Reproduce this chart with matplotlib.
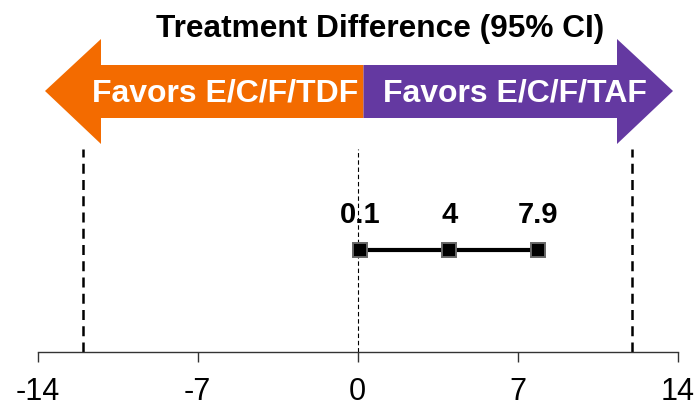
import matplotlib
matplotlib.use("Agg")
import matplotlib.pyplot as plt
from matplotlib.patches import Polygon

plt.rcParams['font.family'] = ['Liberation Sans', 'DejaVu Sans']

# Treatment difference estimate with 95% CI
ci_values = [0.1, 4, 7.9]
ci_labels = ["0.1", "4", "7.9"]
margin_lines = [-12, 12]
xticks = [-14, -7, 0, 7, 14]
xticklabels = ["-14", "-7", "0", "7", "14"]
title = "Treatment Difference (95% CI)"
left_label = "Favors E/C/F/TDF"
right_label = "Favors E/C/F/TAF"
orange = "#F36B00"
purple = "#6439A1"

W, H = 697, 406
fig = plt.figure(figsize=(W / 100, H / 100), dpi=100)

ax_left, ax_right, ax_axis_y = 37.7, 677.7, 353
ax = fig.add_axes([ax_left / W, (H - ax_axis_y) / H, (ax_right - ax_left) / W, ax_axis_y / H])
ax.set_xlim(-14, 14)
ax.set_ylim(0, 1)

for s in ["top", "left", "right"]:
    ax.spines[s].set_visible(False)
ax.spines["bottom"].set_linewidth(1.0)
ax.spines["bottom"].set_color("#333333")
ax.set_yticks([])
ax.set_xticks(xticks)
ax.set_xticklabels(xticklabels, fontsize=22)
ax.tick_params(axis="x", length=7, width=1.0, color="#333333", pad=10)

# Margin and zero reference lines
line_top = 0.575
for m in margin_lines:
    ax.plot([m, m], [0, line_top], color="black", lw=1.8, ls=(0, (4, 2.5)))
ax.plot([0, 0], [0, line_top], color="black", lw=0.8, ls=(0, (4, 2.5)))

# Point estimate and confidence interval
row_y = 0.289
ax.plot(ci_values, [row_y] * len(ci_values), color="black", lw=3.0,
        marker="s", markersize=10, markerfacecolor="black",
        markeredgecolor="#666666", markeredgewidth=1.4, zorder=3)
for v, lab in zip(ci_values, ci_labels):
    ax.text(v, row_y + 0.08, lab, ha="center", va="baseline",
            fontsize=21, fontweight="bold")

# Direction arrows across the top
def fig_pts(pts):
    return [(x / W, 1 - y / H) for x, y in pts]

orange_arrow = [(45, 92), (101, 40), (101, 66), (363.5, 66), (363.5, 119),
                (101, 119), (101, 145)]
purple_arrow = [(363.5, 66), (617, 66), (617, 40), (673, 92), (617, 145),
                (617, 119), (363.5, 119)]
fig.patches.append(Polygon(fig_pts(orange_arrow), closed=True, facecolor=orange,
                           edgecolor="none", transform=fig.transFigure))
fig.patches.append(Polygon(fig_pts(purple_arrow), closed=True, facecolor=purple,
                           edgecolor="none", transform=fig.transFigure))

fig.text(225 / W, 1 - 94 / H, left_label, ha="center", va="center",
         color="white", fontsize=23, fontweight="bold")
fig.text(515 / W, 1 - 94 / H, right_label, ha="center", va="center",
         color="white", fontsize=23, fontweight="bold")

fig.text(380 / W, 1 - 36.7 / H, title, ha="center", va="baseline",
         fontsize=22.8, fontweight="bold")

fig.savefig("out.png", dpi=100)
